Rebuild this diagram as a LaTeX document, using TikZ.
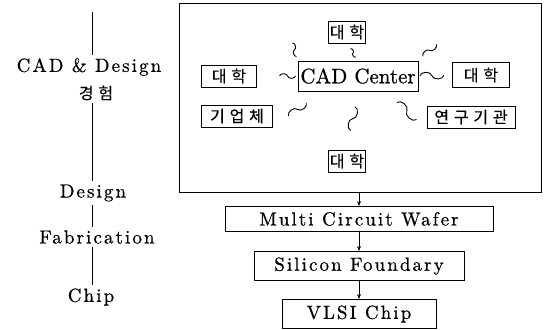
\documentclass[tikz,border=0pt]{standalone}
\usepackage{fontspec}
\newfontfamily\kr[LetterSpace=30, FakeBold=0.4]{Noto Sans CJK KR}
\newfontfamily\wide[LetterSpace=11, FakeBold=0.6]{lmroman10-regular.otf}
\newfontfamily\plain[FakeBold=0.6]{lmroman10-regular.otf}
\usetikzlibrary{calc,arrows.meta}
\tikzset{
  unit/.style={draw, line width=0.9pt, inner sep=1pt, minimum height=22pt,
    font=\kr\fontsize{16}{17}\selectfont},
  stage/.style={draw, line width=0.9pt, minimum height=26pt,
    font=\wide\fontsize{19}{21}\selectfont},
  side/.style={inner sep=3pt, font=\wide\fontsize{19}{21}\selectfont},
  flow/.style={-{Stealth[length=5pt,width=4pt]}, line width=0.8pt},
  squig/.style 2 args={line width=0.9pt, to path={
    ($(\tikztostart)!#1!(\tikztotarget)$) coordinate (sqm)
    ($(sqm)!#2!(\tikztostart)$) coordinate (sqa)
    ($(sqm)!#2!(\tikztotarget)$) coordinate (sqb)
    (sqa) to[bend left=80] (sqm) to[bend right=80] (sqb)}}
}
\begin{document}
\begin{tikzpicture}[x=1pt, y=-1pt]
    \useasboundingbox (0,0) rectangle (545,329);
    % left column
    \coordinate (vtop) at (92,12);
    \node[side] (lcad) at (89,67) {CAD \& Design};
    \node[side, font=\kr\fontsize{16}{17}\selectfont] (lexp) at (96,93) {경험};
    \node[side] (ldes) at (93,193) {Design};
    \node[side] (lfab) at (97,237) {Fabrication};
    \node[side] (lchip) at (91,297) {Chip};
    \draw (vtop) -- (vtop |- lcad.north);
    \draw (lexp.south -| vtop) -- (ldes.north -| vtop);
    \draw (ldes.south -| vtop) -- (lfab.north -| vtop);
    \draw (lfab.south -| vtop) -- (lchip.north -| vtop);
    % CAD network
    \node[draw, line width=0.7pt, minimum width=362pt, minimum height=189pt,
      inner sep=0pt] (grp) at (360,97.5) {};
    \node[draw, line width=0.6pt, inner sep=1pt, minimum width=120pt,
      minimum height=30pt, font=\plain\fontsize{21}{23}\selectfont] (cad) at (358,76) {CAD Center};
    \node[unit, minimum width=37pt] (utop) at (347,32) {대학};
    \node[unit, minimum width=55pt] (uleft) at (229,76) {대학};
    \node[unit, minimum width=57pt, minimum height=25pt] (uright) at (481,75) {대학};
    \node[unit, minimum width=71pt] (corp) at (237,116) {기업체};
    \node[unit, minimum width=88pt] (inst) at (471,117) {연구기관};
    \node[unit, minimum width=37pt] (ubot) at (347,161) {대학};
    \coordinate (ulend) at (291,38);
    \coordinate (urend) at (441,40);
    \draw[squig={0.48}{7pt}] (cad.north west) to (ulend);
    \draw[squig={0.45}{5pt}] (cad.north) to (utop.south);
    \draw[squig={0.5}{9pt}] (cad.north east) to (urend);
    \draw[squig={0.25}{8pt}] (cad.west) to (uleft.east);
    \draw[squig={0.4}{12pt}] (cad.east) to (uright.west);
    \draw[squig={0.5}{11pt}] (cad.-157) to (corp.south east);
    \draw[squig={0.47}{12pt}] (cad.south) to (ubot.north);
    \draw[squig={0.53}{13pt}] (cad.-30) to (inst.south west);
    % fabrication chain
    \node[stage, minimum width=268pt, minimum height=25pt] (mcw) at (359,219) {Multi Circuit Wafer};
    \node[stage, minimum width=210pt, minimum height=29pt] (sf) at (359,266) {Silicon Foundary};
    \node[stage, minimum width=154pt, minimum height=29pt] (vlsi) at (359,314) {VLSI Chip};
    \draw[flow] (grp.south -| mcw.north) -- (mcw.north);
    \draw[flow] (mcw) -- (sf);
    \draw[flow] (sf) -- (vlsi);
\end{tikzpicture}
\end{document}
